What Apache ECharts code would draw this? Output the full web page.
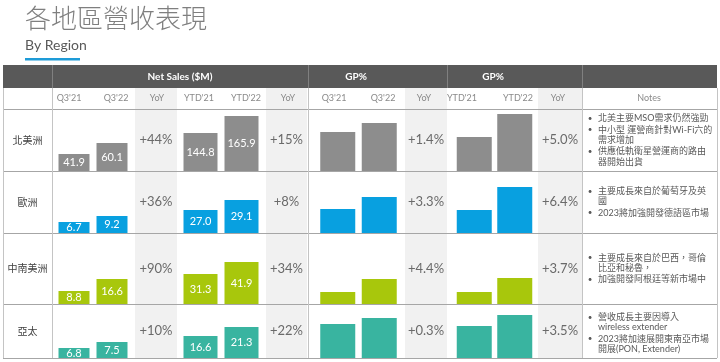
<!DOCTYPE html>
<html><head><meta charset="utf-8">
<script src="https://cdn.jsdelivr.net/npm/echarts@6/dist/echarts.min.js"></script>
<style>html,body{margin:0;padding:0;background:#fff}#c{width:720px;height:362px}</style>
</head><body><div id="c"></div>
<script>
// ---------- data ----------
const regions = ['北美洲', '歐洲', '中南美洲', '亞太'];
const subHeaders = ["Q3'21", "Q3'22", "YoY", "YTD'21", "YTD'22", "YoY", "Q3'21", "Q3'22", "YoY", "YTD'21", "YTD'22", "YoY", "Notes"];
const groupHeaders = ['Net Sales ($M)', 'GP%', 'GP%'];
const barCats = ['A', 'B'];

const salesQ3 = [[41.9, 60.1], [6.7, 9.2], [8.8, 16.6], [6.8, 7.5]];
const salesYTD = [[144.8, 165.9], [27.0, 29.1], [31.3, 41.9], [16.6, 21.3]];
const salesQ3YoY = ['+44%', '+36%', '+90%', '+10%'];
const salesYTDYoY = ['+15%', '+8%', '+34%', '+22%'];

const gpQ3 = [[20.1, 21.5], [22.0, 25.3], [18.0, 22.4], [21.0, 21.3]];
const gpYTD = [[19.0, 24.0], [21.5, 27.9], [18.5, 22.2], [20.5, 24.0]];
const gpQ3YoY = ['+1.4%', '+3.3%', '+4.4%', '+0.3%'];
const gpYTDYoY = ['+5.0%', '+6.4%', '+3.7%', '+3.5%'];

// value-axis range of every mini chart (each cell has its own scale)
const salesQ3Range = [[13.8, 116.4], [2.1, 28.0], [0.35, 46.5], [5.63, 11.93]];
const salesYTDRange = [[97.6, 174.6], [22.2, 35.2], [4.8, 67.5], [5.1, 33.3]];
const gpQ3Range = [[14.0, 23.7], [15.4, 32.45], [13.9, 38.0], [19.3, 22.0]];
const gpYTDRange = [[11.6, 25.1], [15.1, 32.35], [15.3, 34.1], [10.3, 27.5]];

const notes = [
  [['北美主要MSO需求仍然強勁'], ['中小型 運營商針對Wi-Fi六的', '需求增加'], ['供應低軌衛星營運商的路由', '器開始出貨']],
  [['主要成長來自於葡萄牙及英', '國'], ['2023將加強開發德語區市場']],
  [['主要成長來自於巴西，哥倫', '比亞和秘魯，'], ['加強開發阿根廷等新市場中']],
  [['營收成長主要因導入', 'wireless extender'], ['2023將加速展開東南亞市場', '開展(PON, Extender)']]
];

// ---------- layout / style ----------
const colors = ['#8d8d8d', '#08a0e0', '#a8c70c', '#39b4a0'];
const rowTop = [109, 171, 233, 304];
const rowBot = [171, 233, 304, 358];
const noteCenter = [140, 202, 268.5, 333];
const groups = [
  { x0: 55, x1: 131, bw: 31, label: true },
  { x0: 180, x1: 262, bw: 34, label: true },
  { x0: 317, x1: 400, bw: 35, label: false },
  { x0: 454, x1: 535, bw: 35, label: false }
];
const groupData = [salesQ3, salesYTD, gpQ3, gpYTD];
const groupRange = [salesQ3Range, salesYTDRange, gpQ3Range, gpYTDRange];
const yoyCols = [
  { x: 156, vals: salesQ3YoY }, { x: 286.5, vals: salesYTDYoY },
  { x: 426, vals: gpQ3YoY }, { x: 560, vals: gpYTDYoY }
];
const shadeCols = [[135, 177], [266, 307], [405, 447], [538, 582]];
const subHeaderX = [69, 116, 157, 199, 246, 288, 334, 383, 424, 462, 518, 558, 649];
const groupHeaderX = [180, 356, 493];

const LAT = 'Lato, "Noto Sans CJK TC", sans-serif';
const CJK = '"Noto Sans CJK TC", Lato, sans-serif';

function txt(x, y, text, font, fill, align) {
  return {
    type: 'text', x: x, y: y, z: 5,
    style: { text: text, font: font, fill: fill, align: align || 'center', verticalAlign: 'middle',
      textAlign: align || 'center', textVerticalAlign: 'middle' }
  };
}
function line(x1, y1, x2, y2, c) {
  return { type: 'line', z: 1, shape: { x1: x1, y1: y1, x2: x2, y2: y2 }, style: { stroke: c, lineWidth: 1 } };
}
function rect(x, y, w, h, c, z) {
  return { type: 'rect', z: z || 0, shape: { x: x, y: y, width: w, height: h }, style: { fill: c } };
}

const g = [];
// title
g.push(txt(25, 18, '各地區營收表現', '300 26px ' + CJK, '#7f7f7f', 'left'));
g.push(txt(25, 45, 'By Region', '14px ' + LAT, '#595959', 'left'));
g.push(rect(25, 58, 55, 2.5, '#1e9bd7'));
// header band
g.push(rect(3, 65, 714, 23, '#595959'));
[52, 308, 447, 582].forEach(x => g.push(line(x + 0.5, 65, x + 0.5, 88, '#808080')));
groupHeaders.forEach((t, i) => g.push(txt(groupHeaderX[i], 76.5, t, 'bold 10px ' + LAT, '#ffffff')));
// shaded YoY columns
shadeCols.forEach(c => g.push(rect(c[0], 88, c[1] - c[0], 270, '#f1f1f1')));
// sub headers
subHeaders.forEach((t, i) => g.push(txt(subHeaderX[i], 98.5, t, '9px ' + LAT, '#8a8a8a')));
// grid lines
[109, 171, 233, 304, 358].forEach(y => g.push(line(3, y + 0.5, 717, y + 0.5, '#a6a6a6')));
[3, 52, 308, 582, 717].forEach(x => g.push(line(x + 0.5, 88, x + 0.5, 358, '#c4c4c4')));
// region labels, yoy, notes
regions.forEach((r, i) => {
  const cy = (rowTop[i] + rowBot[i]) / 2;
  g.push(txt(27.5, cy, r, '10px ' + CJK, '#404040'));
  yoyCols.forEach(c => g.push(txt(c.x, cy, c.vals[i], '13px ' + LAT, '#6a6a6a')));
  const lh = 10.3, gap = 1.2;
  let n = 0; notes[i].forEach(b => n += b.length);
  const span = (n - 1) * lh + (notes[i].length - 1) * gap;
  let y = noteCenter[i] - span / 2;
  notes[i].forEach((b, bi) => {
    if (bi > 0) y += gap;
    b.forEach((l, li) => {
      if (li === 0) g.push(txt(590, y, '•', '8px ' + LAT, '#595959'));
      g.push(txt(598, y, l, '9px ' + LAT, '#595959', 'left'));
      y += lh;
    });
  });
});

// ---------- mini bar charts ----------
const grid = [], xAxis = [], yAxis = [], series = [];
regions.forEach((r, i) => {
  groups.forEach((gr, j) => {
    const idx = grid.length;
    grid.push({ left: gr.x0, width: gr.x1 - gr.x0, top: rowTop[i], height: rowBot[i] - rowTop[i] });
    xAxis.push({ gridIndex: idx, type: 'category', data: barCats, show: false });
    yAxis.push({ gridIndex: idx, type: 'value', min: groupRange[j][i][0], max: groupRange[j][i][1], show: false });
    series.push({
      type: 'bar', xAxisIndex: idx, yAxisIndex: idx, barWidth: gr.bw,
      data: groupData[j][i], itemStyle: { color: colors[i] }, silent: true, animation: false,
      label: { show: gr.label, position: 'inside', color: '#ffffff', fontSize: 11, fontFamily: 'Lato',
        formatter: p => p.value.toFixed(1) }
    });
  });
});

const chart = echarts.init(document.getElementById('c'), null, { renderer: 'canvas' });
chart.setOption({
  animation: false,
  grid: grid, xAxis: xAxis, yAxis: yAxis, series: series,
  graphic: { elements: g }
});
</script></body></html>
